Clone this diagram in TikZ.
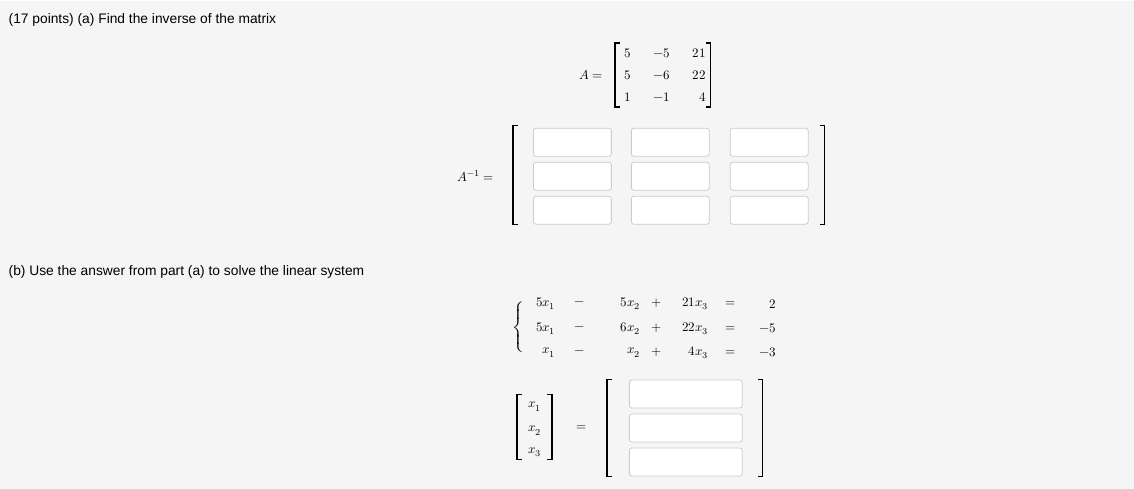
\documentclass[tikz,border=0pt]{standalone}
\usepackage{fontspec}
\setmainfont{Liberation Sans}
\usepackage{unicode-math}
\setmathfont{Latin Modern Math}
\usepackage{graphicx}
\newcommand\mth[1]{\scalebox{1.3}{$#1$}}
\begin{document}
\begin{tikzpicture}[x=1pt,y=-1pt,
  every node/.style={inner sep=0pt},
  txt/.style={anchor=west,font=\fontsize{13.8}{16}\selectfont},
  ibox/.style={draw=black!20,fill=white,rounded corners=2.5pt,line width=0.8pt,minimum width=78pt,minimum height=28pt,anchor=north west},
  brk/.style={line width=1.2pt}]
\fill[black!4] (0,0) rectangle (1134,489);
\draw[white,line width=1pt] (0,0.5)--(1134,0.5);
\node[txt] (t1) at (8,20) {(17 points) (a) Find the inverse of the matrix};
\node[txt] (t2) at (8,272) {(b) Use the answer from part (a) to solve the linear system};
% matrix A
\node[anchor=east] (Aeq) at (603,75) {\mth{A=}};
\draw[brk] (620,43)--(615,43)--(615,107)--(620,107);
\draw[brk] (706,43)--(711,43)--(711,107)--(706,107);
\node[anchor=east] (a11) at (631,53) {\mth{5}};
\node[anchor=east] (a21) at (631,75) {\mth{5}};
\node[anchor=east] (a31) at (631,97) {\mth{1}};
\node[anchor=east] (a12) at (670,53) {\mth{-5}};
\node[anchor=east] (a22) at (670,75) {\mth{-6}};
\node[anchor=east] (a32) at (670,97) {\mth{-1}};
\node[anchor=east] (a13) at (706,53) {\mth{21}};
\node[anchor=east] (a23) at (706,75) {\mth{22}};
\node[anchor=east] (a33) at (706,97) {\mth{4}};
% inverse
\node[anchor=east] (Ainv) at (494,176) {\mth{A^{-1}=}};
\draw[brk] (518,126)--(513,126)--(513,225)--(518,225);
\draw[brk] (820,126)--(825,126)--(825,225)--(820,225);
\foreach \c/\x in {1/533,2/631,3/730}{
  \foreach \r/\y in {1/128,2/162,3/196}{
    \node[ibox] (b\r\c) at (\x,\y) {};
  }
}
% system
\node (brace) at (519,329) {\mth{\left\{\vrule height 19pt depth 19pt width 0pt\right.}};
\foreach \r/\y/\ca/\cb/\cc/\rhs in {1/304/5/5/21/2,2/329/5/6/22/-5,3/353//{}/4/-3}{
  \node[anchor=east] (p\r) at (556,\y) {\mth{\ca x_1}};
  \node (m\r) at (580,\y) {\mth{-}};
  \node[anchor=east] (q\r) at (641,\y) {\mth{\cb x_2}};
  \node (pl\r) at (657,\y) {\mth{+}};
  \node[anchor=east] (s\r) at (709,\y) {\mth{\cc x_3}};
  \node (e\r) at (731,\y) {\mth{=}};
  \node[anchor=east] (rh\r) at (776,\y) {\mth{\rhs}};
}
% vector
\draw[brk] (522,395)--(517,395)--(517,460)--(522,460);
\draw[brk] (547,395)--(552,395)--(552,460)--(547,460);
\node (x1) at (535,407) {\mth{x_1}};
\node (x2) at (535,431) {\mth{x_2}};
\node (x3) at (535,453) {\mth{x_3}};
\node (veq) at (582,428) {\mth{=}};
\draw[brk] (612,380)--(607,380)--(607,477)--(612,477);
\draw[brk] (758,380)--(763,380)--(763,477)--(758,477);
\foreach \r/\y in {1/380,2/414,3/448}{
  \node[ibox,minimum width=113pt] (v\r) at (629,\y) {};
}
\end{tikzpicture}
\end{document}
